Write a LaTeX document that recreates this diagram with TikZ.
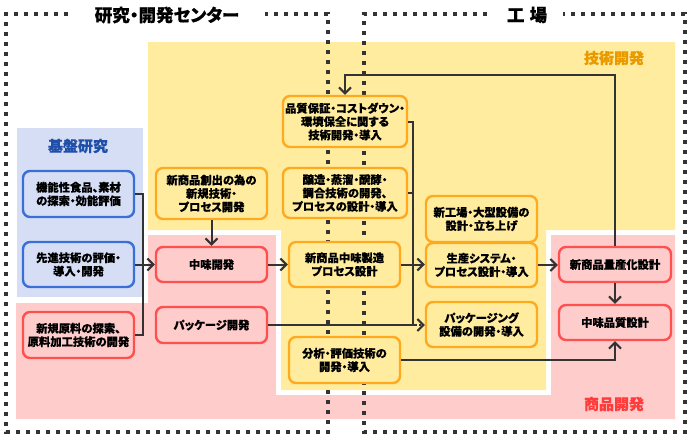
\documentclass[tikz,border=0pt]{standalone}
\usepackage{fontspec}
\setmainfont{Noto Sans CJK JP}[RawFeature={+palt}, BoldFeatures={FakeBold=0.35}]
\usetikzlibrary{arrows.meta,calc}
\definecolor{blueBg}{HTML}{D6DEF6}
\definecolor{blueLn}{HTML}{3A6FD6}
\definecolor{blueTx}{HTML}{1F4FA8}
\definecolor{yelBg}{HTML}{FFEC9E}
\definecolor{orgLn}{HTML}{FFAA1E}
\definecolor{orgTx}{HTML}{E89A00}
\definecolor{pinkBg}{HTML}{FFCCCC}
\definecolor{redLn}{HTML}{FF5050}
\definecolor{redTx}{HTML}{FF3B3B}
\definecolor{ink}{HTML}{333333}
\tikzset{
  box/.style={rounded corners=7pt, line width=2.4pt, inner sep=0pt, align=center,
    font=\fontsize{11.3pt}{13.4pt}\selectfont\bfseries, text=black},
  bbox/.style={box, draw=blueLn, fill=blueBg},
  obox/.style={box, draw=orgLn, fill=yelBg},
  rbox/.style={box, draw=redLn, fill=pinkBg},
  conn/.style={draw=ink, line width=2pt},
  arr/.style={-{Straight Barb[length=6pt,width=12pt]}},
  frame/.style={draw=ink, line width=4pt, dash pattern=on 4pt off 6pt},
  title/.style={font=\fontsize{17.5pt}{20pt}\selectfont\bfseries, text=black},
  area/.style={font=\fontsize{15pt}{18pt}\selectfont\bfseries},
}
\begin{document}
\begin{tikzpicture}[x=1pt,y=-1pt]
\useasboundingbox (0,0) rectangle (692,439);
% background regions
\fill[pinkBg] (16,303) -- (148,303) -- (148,235) -- (675,235) -- (675,419) -- (16,419) -- cycle;
\fill[white] (276,230) rectangle (551,395);
\fill[yelBg] (148,42) -- (675,42) -- (675,230) -- (546,230) -- (546,390) -- (281,390) -- (281,230) -- (148,230) -- cycle;
\fill[blueBg] (17,128) rectangle (143,297);
% area labels
\node[area, text=blueTx] (lblbase) at (78,146) {基盤研究};
\node[area, text=orgTx] (lbltech) at (614,58) {技術開発};
\node[area, text=redTx] (lblprod) at (614,404) {商品開発};
% frames
\draw[frame] (68,14) -- (6,14) -- (6,432) -- (328,432) -- (328,14) -- (265,14);
\draw[frame] (487,14) -- (364,14) -- (364,432) -- (685,432) -- (685,14) -- (563,14);
\node[title] (tcenter) at (167,15) {研究・開発センター};
\node[title] (tfactory) at (527,15) {工\hspace{0.3em}場};
% boxes
\node[bbox, minimum width=111pt, minimum height=46pt] (n1) at (78.5,194) {機能性食品、素材\\の探索・効能評価};
\node[bbox, minimum width=111pt, minimum height=45pt] (n2) at (78.5,264.5) {先進技術の評価・\\導入・開発};
\node[rbox, minimum width=111pt, minimum height=46pt] (n3) at (78.5,335) {新規原料の探索、\\原料加工技術の開発};
\node[obox, minimum width=111pt, minimum height=51pt] (n4) at (211.5,193.5) {新商品創出の為の\\新規技術・\\プロセス開発};
\node[rbox, minimum width=111pt, minimum height=35pt] (n5) at (211.5,264.5) {中味開発};
\node[rbox, minimum width=111pt, minimum height=36pt] (n6) at (211.5,325) {パッケージ開発};
\node[obox, minimum width=124pt, minimum height=51pt] (n7) at (345,121.5) {品質保証・コストダウン・\\環境保全に関する\\技術開発・導入};
\node[obox, minimum width=124pt, minimum height=50pt] (n8) at (345,193) {醸造・蒸溜・醗酵・\\調合技術の開発、\\プロセスの設計・導入};
\node[obox, minimum width=111pt, minimum height=45pt] (n9) at (344.5,264.5) {新商品中味製造\\プロセス設計};
\node[obox, minimum width=111pt, minimum height=46pt] (n10) at (344.5,360) {分析・評価技術の\\開発・導入};
\node[obox, minimum width=111pt, minimum height=46pt] (n11) at (481.5,219) {新工場・大型設備の\\設計・立ち上げ};
\node[obox, minimum width=111pt, minimum height=44pt] (n12) at (481.5,265) {生産システム・\\プロセス設計・導入};
\node[obox, minimum width=111pt, minimum height=45pt] (n13) at (481.5,324.5) {パッケージング\\設備の開発・導入};
\node[rbox, minimum width=112pt, minimum height=35pt] (n14) at (615,264.5) {新商品量産化設計};
\node[rbox, minimum width=112pt, minimum height=35pt] (n15) at (615,322.5) {中味品質設計};
% connectors
\draw[conn] (n1.east) -- ++(8,0) |- (n3.east);
\draw[conn,arr] (n2.east) -- (n5.west);
\draw[conn,arr] (n4.south) -- (n5.north);
\draw[conn,arr] (n5.east) -- (n9.west);
\draw[conn,arr] (n9.east) -- (n9.east -| n12.west);
\coordinate (jm) at (413,325);
\draw[conn] (n7.east) -| (jm);
\draw[conn] (n8.east) -- (n8.east -| jm);
\draw[conn] (n6.east) -- (jm);
\draw[conn] (jm) -- ++(2,0);
\draw[conn,arr,dash pattern=on 2pt off 2pt] ($(jm)+(2,0)$) -- (jm -| n13.west);
\coordinate (jt) at (480,75);
\draw[conn,arr] (n14.north) |- (jt) -| (n7.north);
\draw[conn,arr] (n12.east) -- (n12.east -| n14.west);
\draw[conn,arr] (n14.south) -- (n15.north);
\draw[conn,arr] (n10.east) -| (n15.south);
\end{tikzpicture}
\end{document}
